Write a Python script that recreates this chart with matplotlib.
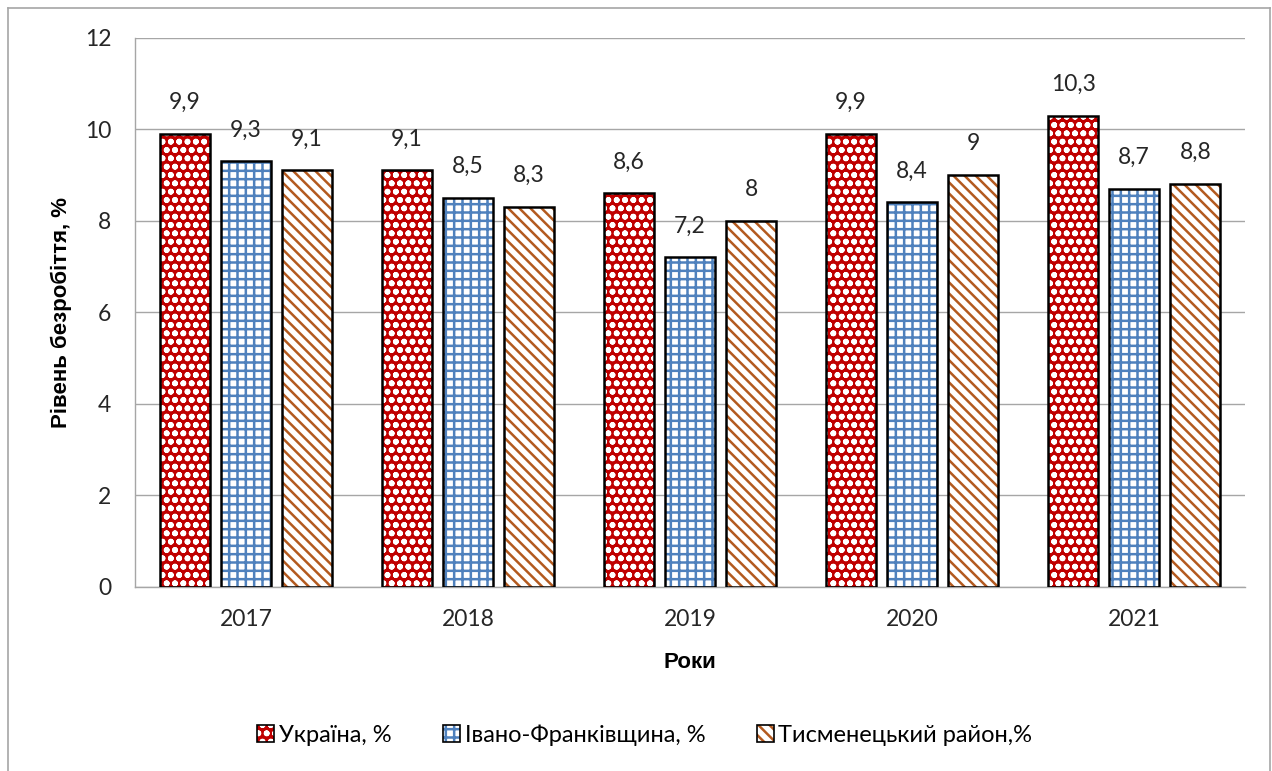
import numpy as np
import matplotlib.pyplot as plt
from matplotlib.patches import Patch
from matplotlib.legend_handler import HandlerTuple
from matplotlib.lines import Line2D

years = ["2017", "2018", "2019", "2020", "2021"]
ukraine = [9.9, 9.1, 8.6, 9.9, 10.3]
ivano_frankivsk = [9.3, 8.5, 7.2, 8.4, 8.7]
tysmenytsia = [9.1, 8.3, 8.0, 9.0, 8.8]
series_names = ["Україна, %", "Івано-Франківщина, %", "Тисменецький район,%"]

plt.rcParams['hatch.linewidth'] = 1.8

# (face, hatch colour, hatch)
styles = [
    ("#C00000", "white", "oo"),
    ("white", "#4F81BD", "++"),
    ("white", "#B35A1F", "\\\\\\"),
]

fig = plt.figure(figsize=(12.72, 7.71), dpi=100)
ax = fig.add_axes([0.106, 0.239, 0.873, 0.712])

x = np.arange(len(years))
width = 0.225
offset = 0.275
handles = []
for i, vals in enumerate([ukraine, ivano_frankivsk, tysmenytsia]):
    face, hc, hatch = styles[i]
    pos = x + (i - 1) * offset
    ax.bar(pos, vals, width, color=face, edgecolor=hc, hatch=hatch, linewidth=0, zorder=2)
    ax.bar(pos, vals, width, fill=False, edgecolor="black", linewidth=1.8, zorder=3)
    for p, v in zip(pos, vals):
        lbl = f"{v:g}".replace(".", ",")
        ax.annotate(lbl, (p, v), xytext=(0, 15), textcoords="offset points",
                    ha="center", va="bottom", fontsize=16.5, family="Lato", color="#262626")
    handles.append((Patch(facecolor=face, edgecolor=hc, hatch=hatch, linewidth=0),
                    Patch(fill=False, edgecolor="black", linewidth=1.2)))

ax.set_xlim(-0.5, len(years) - 0.5)
ax.set_ylim(0, 12)
ax.set_yticks(np.arange(0, 13, 2))
ax.set_xticks(x)
ax.set_xticklabels(years)
ax.tick_params(length=0, labelsize=16.5, colors="#262626")
for t in ax.get_xticklabels() + ax.get_yticklabels():
    t.set_family("Lato")
ax.tick_params(axis="x", pad=16)
ax.tick_params(axis="y", pad=17)
ax.grid(axis="y", color="#A6A6A6", linewidth=1, zorder=0)
ax.set_axisbelow(True)
for s in ["top", "right"]:
    ax.spines[s].set_visible(False)
for s in ["left", "bottom"]:
    ax.spines[s].set_color("#A6A6A6")
    ax.spines[s].set_linewidth(1)

ax.set_xlabel("Роки", fontsize=16, fontweight="bold", family="Liberation Sans", labelpad=16)
ax.set_ylabel("Рівень безробіття, %", fontsize=16, fontweight="bold", family="Liberation Sans", labelpad=9)

fig.legend(handles, series_names, handler_map={tuple: HandlerTuple(ndivide=1)},
           loc="center", bbox_to_anchor=(0.507, 0.047), ncol=3, frameon=False,
           prop={"family": "Lato", "size": 17}, handlelength=0.7, handleheight=0.7,
           handletextpad=0.2, columnspacing=2.2)

# figure border
bx0, by0, bx1 = 8 / 1272, 8 / 771, 1270 / 1272
fig.add_artist(Line2D([bx0, bx1], [1 - by0, 1 - by0], color="#A6A6A6", lw=1.2))
fig.add_artist(Line2D([bx0, bx0], [0, 1 - by0], color="#A6A6A6", lw=1.2))
fig.add_artist(Line2D([bx1, bx1], [0, 1 - by0], color="#A6A6A6", lw=1.2))

fig.savefig("out.png", dpi=100)
